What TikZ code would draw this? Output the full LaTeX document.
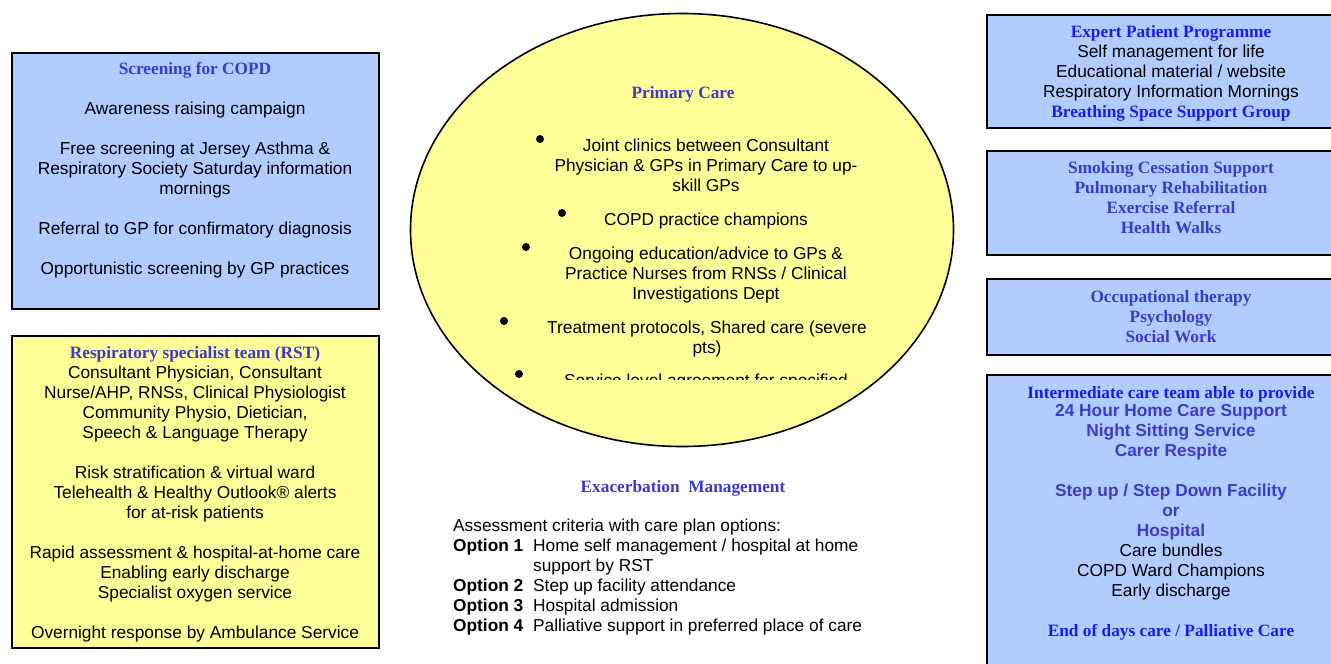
\documentclass[tikz,border=0pt]{standalone}
\usepackage{fontspec}
\setmainfont{Liberation Sans}
\newfontfamily\serifhd{Liberation Serif}
\usetikzlibrary{shapes.geometric}
\definecolor{boxblue}{HTML}{B3CCFF}
\definecolor{boxyellow}{HTML}{FFFF99}
\definecolor{hdblue}{HTML}{3B3BC8}
\definecolor{brblue}{HTML}{1A1AF0}
\newcommand{\hd}{\serifhd\bfseries\color{hdblue}}
\newcommand{\hdb}{\serifhd\bfseries\color{brblue}}
\newcommand{\sbh}{\bfseries\color{hdblue}}
\tikzset{
  panel/.style={draw=black, line width=1.6pt, inner sep=0pt},
  bluepanel/.style={panel, fill=boxblue},
  yellowpanel/.style={panel, fill=boxyellow},
  txt/.style={inner sep=0pt, align=center, anchor=north, font=\fontsize{17.3}{20}\selectfont},
  bullet/.style={circle, fill=black, inner sep=0pt, minimum size=8pt}
}
\begin{document}
\begin{tikzpicture}[x=1pt,y=-1pt]
\useasboundingbox (0,0) rectangle (1331,664);
\fill[white] (0,0) rectangle (1331,664);
\begin{scope}
\clip (0,0) rectangle (1331,664);
% left boxes
\node[bluepanel, minimum width=367pt, minimum height=256pt, anchor=north west] (scrbox) at (11,52) {};
\node[txt] (scrtxt) at (195,60) {\strut{\hd Screening for COPD}\\[20pt]
Awareness raising campaign\\[20pt]
Free screening at Jersey Asthma \&\\
Respiratory Society Saturday information\\
mornings\\[20pt]
Referral to GP for confirmatory diagnosis\\[20pt]
Opportunistic screening by GP practices};

\node[yellowpanel, minimum width=367pt, minimum height=312pt, anchor=north west] (rstbox) at (11,335) {};
\node[txt] (rsttxt) at (195,344) {\strut{\hd Respiratory specialist team (RST)}\\
Consultant Physician, Consultant\\
Nurse/AHP, RNSs, Clinical Physiologist\\
Community Physio, Dietician,\\
Speech \& Language Therapy\\[20pt]
Risk stratification \& virtual ward\\
Telehealth \& Healthy Outlook® alerts\\
for at-risk patients\\[20pt]
Rapid assessment \& hospital-at-home care\\
Enabling early discharge\\
Specialist oxygen service\\[20pt]
Overnight response by Ambulance Service};

% ellipse
\node[ellipse, draw=black, line width=1.6pt, fill=boxyellow, minimum width=543pt, minimum height=433pt, inner sep=0pt] (pc) at (682,230) {};
\node[txt] (pctitle) at (683,84) {\strut{\hd Primary Care}};
\begin{scope}
\clip (420,100) rectangle (950,379);
\node[bullet] (b1) at (540,139) {};
\node[txt] (p1) at (706,137) {\strut Joint clinics between Consultant\\ Physician \& GPs in Primary Care to up-\\ skill GPs};
\node[bullet] (b2) at (562,213) {};
\node[txt] (p2) at (706,211) {\strut COPD practice champions};
\node[bullet] (b3) at (526,247) {};
\node[txt] (p3) at (706,245) {\strut Ongoing education/advice to GPs \&\\ Practice Nurses from RNSs / Clinical\\ Investigations Dept};
\node[bullet] (b4) at (504,321) {};
\node[txt] (p4) at (707,319) {\strut Treatment protocols, Shared care (severe\\ pts)};
\node[bullet] (b5) at (519,374) {};
\node[txt] (p5) at (706,372) {\strut Service level agreement for specified};
\end{scope}

% exacerbation
\node[txt] (extitle) at (683,478) {\strut{\hd Exacerbation\ \ Management}};
\node[inner sep=0pt, anchor=north west, font=\fontsize{17.3}{20}\selectfont] (extxt) at (453,517) {%
\begin{tabular}{@{}p{80pt}@{}l@{}}
\multicolumn{2}{@{}l@{}}{Assessment criteria with care plan options:}\\
\textbf{Option 1} & Home self management / hospital at home\\
 & support by RST\\
\textbf{Option 2} & Step up facility attendance\\
\textbf{Option 3} & Hospital admission\\
\textbf{Option 4} & Palliative support in preferred place of care
\end{tabular}};

% right boxes
\node[bluepanel, minimum width=370pt, minimum height=113pt, anchor=north west] (epbox) at (986,14) {};
\node[txt] (eptxt) at (1171,23) {\strut{\hdb Expert Patient Programme}\\
Self management for life\\
Educational material / website\\
Respiratory Information Mornings\\
{\hdb Breathing Space Support Group}};

\node[bluepanel, minimum width=370pt, minimum height=104pt, anchor=north west] (scbox) at (986,150) {};
\node[txt] (sctxt) at (1171,159) {\strut{\hd Smoking Cessation Support}\\
{\hd Pulmonary Rehabilitation}\\
{\hd Exercise Referral}\\
{\hd Health Walks}};

\node[bluepanel, minimum width=370pt, minimum height=76pt, anchor=north west] (otbox) at (986,278) {};
\node[txt] (ottxt) at (1171,288) {\strut{\hd Occupational therapy}\\
{\hd Psychology}\\
{\hd Social Work}};

\node[bluepanel, minimum width=370pt, minimum height=320pt, anchor=north west] (icbox) at (986,374) {};
\node[txt] (ictxt) at (1171,384) {\strut{\hdb Intermediate care team able to provide}\\[-2pt]
{\sbh 24 Hour Home Care Support}\\
{\sbh Night Sitting Service}\\
{\sbh Carer Respite}\\[20pt]
{\sbh Step up / Step Down Facility}\\
{\sbh or}\\
{\sbh Hospital}\\
Care bundles\\
COPD Ward Champions\\
Early discharge\\[20pt]
{\hdb End of days care / Palliative Care}};
\end{scope}
\end{tikzpicture}
\end{document}
